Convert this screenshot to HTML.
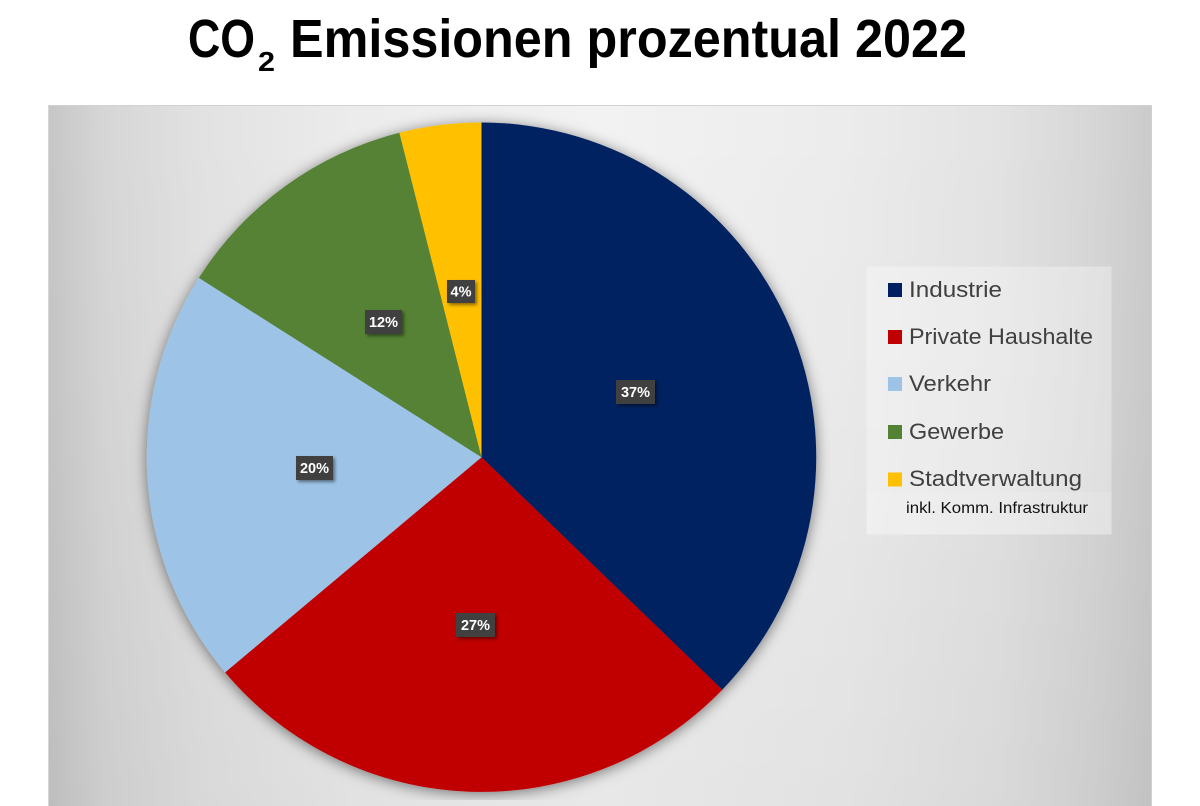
<!DOCTYPE html>
<html>
<head>
<meta charset="utf-8">
<style>
  html,body{margin:0;padding:0;background:#fff;}
  body{width:1200px;height:800px;overflow:hidden;position:relative;}
  .panel{position:absolute;left:48px;top:105px;width:1102px;height:700px;
    border-top:1px solid #d2d2d2;border-left:1px solid #d6d6d6;border-right:1px solid #d0d0d0;
    background:
      linear-gradient(to bottom, rgba(0,0,0,0) 0%, rgba(0,0,0,0.01) 40%, rgba(0,0,0,0.045) 100%),
      linear-gradient(to right, #c6c6c6 0%, #d6d6d6 5%, #e2e2e2 14%, #ececec 28%, #f2f2f2 50%, #ececec 72%, #e3e3e3 86%, #d6d6d6 95%, #cbcbcb 100%);}
  svg{position:absolute;left:0;top:0;}
</style>
</head>
<body>
<div class="panel"></div>
<svg width="1200" height="800" viewBox="0 0 1200 800" xmlns="http://www.w3.org/2000/svg">
  <defs>
    <filter id="pieShadow" x="-20%" y="-20%" width="140%" height="140%">
      <feDropShadow dx="0" dy="2" stdDeviation="7" flood-color="#000" flood-opacity="0.5"/>
    </filter>
    <filter id="lblShadow" x="-30%" y="-30%" width="160%" height="160%">
      <feDropShadow dx="2" dy="2" stdDeviation="1.5" flood-color="#000" flood-opacity="0.45"/>
    </filter>
  </defs>

  <!-- Title -->
  <g font-family="'Liberation Sans', Arial, sans-serif" font-weight="bold" fill="#000">
    <text x="188" y="57" font-size="54" textLength="67" lengthAdjust="spacingAndGlyphs">CO</text>
    <text x="258" y="71" font-size="28" textLength="17" lengthAdjust="spacingAndGlyphs">2</text>
    <text x="290" y="57" font-size="54" textLength="677" lengthAdjust="spacingAndGlyphs">Emissionen prozentual 2022</text>
  </g>

  <!-- Pie -->
  <g filter="url(#pieShadow)">
    <path d="M481.5,457.2 L481.5,122.5 A334.7,334.7 0 0 1 722.27,689.7 Z" fill="#002060"/>
    <path d="M481.5,457.2 L722.27,689.7 A334.7,334.7 0 0 1 225.11,672.34 Z" fill="#C00000"/>
    <path d="M481.5,457.2 L225.11,672.34 A334.7,334.7 0 0 1 198.9,277.86 Z" fill="#9DC3E6"/>
    <path d="M481.5,457.2 L198.9,277.86 A334.7,334.7 0 0 1 399.4,132.73 Z" fill="#548235"/>
    <path d="M481.5,457.2 L399.4,132.73 A334.7,334.7 0 0 1 481.5,122.5 Z" fill="#FFC000"/>
  </g>

  <!-- Data labels -->
  <g font-family="'Liberation Sans', Arial, sans-serif" font-weight="bold" font-size="14.5" fill="#fff" text-anchor="middle">
    <rect x="616" y="380" width="39" height="24" fill="#404040" filter="url(#lblShadow)"/>
    <text x="635.5" y="397">37%</text>
    <rect x="365" y="310" width="37" height="24" fill="#404040" filter="url(#lblShadow)"/>
    <text x="383.5" y="327">12%</text>
    <rect x="447" y="280" width="28" height="23" fill="#404040" filter="url(#lblShadow)"/>
    <text x="461" y="296.5">4%</text>
    <rect x="296" y="456" width="37" height="24" fill="#404040" filter="url(#lblShadow)"/>
    <text x="314.5" y="473">20%</text>
    <rect x="456" y="613" width="39" height="24" fill="#404040" filter="url(#lblShadow)"/>
    <text x="475.5" y="630">27%</text>
  </g>

  <!-- Legend -->
  <rect x="866.5" y="266.5" width="245" height="268" fill="#ffffff" fill-opacity="0.32"/>
  <rect x="866.5" y="492" width="245" height="42" fill="#ffffff" fill-opacity="0.12"/>
  <g font-family="'Liberation Sans', Arial, sans-serif" font-size="22" fill="#404040">
    <rect x="888" y="283" width="14" height="14" fill="#002060"/>
    <text x="909" y="297" textLength="93" lengthAdjust="spacingAndGlyphs">Industrie</text>
    <rect x="888" y="330" width="14" height="14" fill="#C00000"/>
    <text x="909" y="344" textLength="184" lengthAdjust="spacingAndGlyphs">Private Haushalte</text>
    <rect x="888" y="377" width="14" height="14" fill="#9DC3E6"/>
    <text x="909" y="391" textLength="82" lengthAdjust="spacingAndGlyphs">Verkehr</text>
    <rect x="888" y="425" width="14" height="14" fill="#548235"/>
    <text x="909" y="439" textLength="95" lengthAdjust="spacingAndGlyphs">Gewerbe</text>
    <rect x="888" y="472.5" width="14" height="14" fill="#FFC000"/>
    <text x="909" y="486" textLength="173" lengthAdjust="spacingAndGlyphs">Stadtverwaltung</text>
  </g>
  <text x="906" y="513" font-family="'Liberation Sans', Arial, sans-serif" font-size="16" fill="#111" textLength="182" lengthAdjust="spacingAndGlyphs">inkl. Komm. Infrastruktur</text>
</svg>
</body>
</html>
